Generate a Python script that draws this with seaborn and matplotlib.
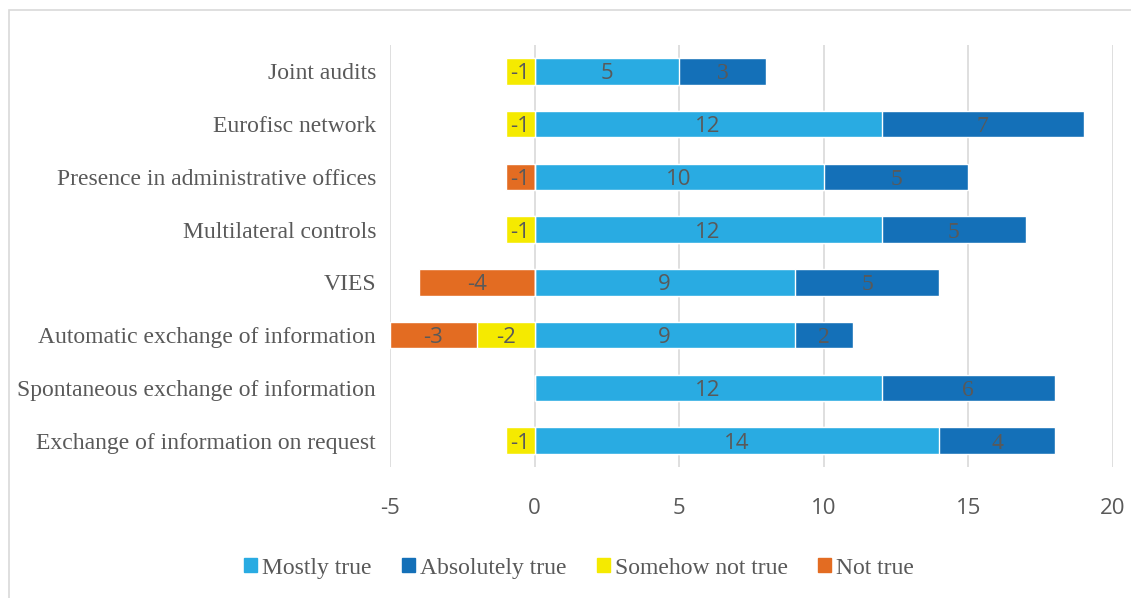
import matplotlib.pyplot as plt
from matplotlib.patches import Patch, Rectangle
import seaborn as sns
import pandas as pd

categories = ["Joint audits", "Eurofisc network", "Presence in administrative offices",
              "Multilateral controls", "VIES", "Automatic exchange of information",
              "Spontaneous exchange of information", "Exchange of information on request"]
mostly_true = [5, 12, 10, 12, 9, 9, 12, 14]
absolutely_true = [3, 7, 5, 5, 5, 2, 6, 4]
somehow_not_true = [-1, -1, 0, -1, 0, -2, 0, -1]
not_true = [0, 0, -1, 0, -4, -3, 0, 0]

C_MOSTLY = "#29ABE2"
C_ABS = "#1470B8"
C_SOMEHOW = "#F5EA00"
C_NOT = "#E36C22"
GRAY = "#595959"
SANS = ["Open Sans", "DejaVu Sans"]

df = pd.DataFrame({"cat": categories, "mostly": mostly_true, "abs": absolutely_true,
                   "somehow": somehow_not_true, "not": not_true})
df["pos_total"] = df["mostly"] + df["abs"]
df["neg_total"] = df["somehow"] + df["not"]

sns.set_style("white")
plt.rcParams["font.family"] = ["Liberation Serif", "DejaVu Serif"]

fig = plt.figure(figsize=(11.31, 5.98), dpi=100)
ax = fig.add_axes([0.3448, 0.219, 0.984 - 0.3448, 0.9247 - 0.219])

# stacked via layering totals under the first segment
sns.barplot(data=df, y="cat", x="pos_total", color=C_ABS, orient="h", width=0.5,
            saturation=1, ax=ax, zorder=2)
sns.barplot(data=df, y="cat", x="mostly", color=C_MOSTLY, orient="h", width=0.5,
            saturation=1, ax=ax, zorder=3)
sns.barplot(data=df, y="cat", x="neg_total", color=C_NOT, orient="h", width=0.5,
            saturation=1, ax=ax, zorder=2)
sns.barplot(data=df, y="cat", x="somehow", color=C_SOMEHOW, orient="h", width=0.5,
            saturation=1, ax=ax, zorder=3)

for i, r in df.iterrows():
    if r["mostly"]:
        ax.text(r["mostly"] / 2, i, str(r["mostly"]), ha="center", va="center_baseline",
                color=GRAY, fontsize=16, family=SANS, zorder=5)
    if r["abs"]:
        ax.text(r["mostly"] + r["abs"] / 2, i, str(r["abs"]), ha="center",
                va="center_baseline", color=GRAY, fontsize=17, zorder=5)
    if r["somehow"]:
        ax.text(r["somehow"] / 2, i, str(r["somehow"]), ha="center", va="center_baseline",
                color=GRAY, fontsize=16, family=SANS, zorder=5)
    if r["not"]:
        ax.text(r["somehow"] + r["not"] / 2, i, str(r["not"]), ha="center",
                va="center_baseline", color=GRAY, fontsize=16, family=SANS, zorder=5)

ax.set_xlim(-5, 20)
ax.set_ylim(7.5, -0.5)
ax.set_xticks([-5, 0, 5, 10, 15, 20])
ax.set_xticklabels(["-5", "0", "5", "10", "15", "20"], family=SANS)
ax.xaxis.grid(True, color="#D9D9D9", linewidth=1.2, zorder=0)
ax.set_axisbelow(True)
ax.tick_params(axis="x", colors=GRAY, labelsize=16, length=0, pad=22)
ax.tick_params(axis="y", colors=GRAY, labelsize=17, length=0, pad=10)
ax.set_xlabel("")
ax.set_ylabel("")
for s in ax.spines.values():
    s.set_visible(False)

handles = [Patch(color=C_MOSTLY, label="Mostly true"),
           Patch(color=C_ABS, label="Absolutely true"),
           Patch(color=C_SOMEHOW, label="Somehow not true"),
           Patch(color=C_NOT, label="Not true")]
leg = fig.legend(handles=handles, loc="center", bbox_to_anchor=(0.512, 0.05), ncol=4,
                 frameon=False, fontsize=17, handlelength=0.55, handleheight=0.55,
                 handletextpad=0.2, columnspacing=1.3)
for t in leg.get_texts():
    t.set_color(GRAY)

fig.patches.append(Rectangle((0.008, -0.01), 1.0, 0.993, transform=fig.transFigure,
                             fill=False, edgecolor="#D9D9D9", linewidth=1.2))

fig.savefig("out.png", dpi=100)
